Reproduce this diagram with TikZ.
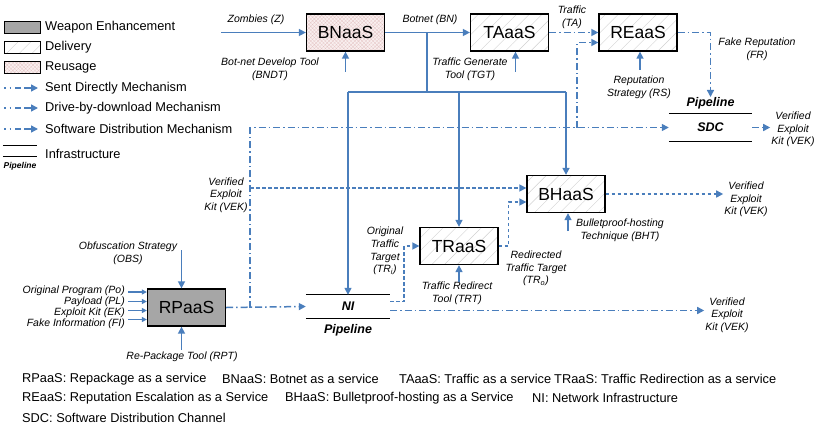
\documentclass[tikz,border=0pt]{standalone}
\usepackage{fontspec}
\setmainfont{Liberation Sans}
\usepackage{tikz}
\usetikzlibrary{arrows.meta}
\usetikzlibrary{positioning}
\usetikzlibrary{patterns.meta}

\definecolor{flowblue}{RGB}{74,126,188}
\definecolor{weapongray}{RGB}{166,166,166}
\definecolor{reusepink}{RGB}{249,239,239}
\definecolor{reusehatch}{RGB}{228,196,196}

\begin{document}
\begin{tikzpicture}[x=1pt,y=-1pt,
  box/.style={draw,line width=1.3pt,minimum width=78pt,minimum height=37pt,inner sep=0pt,font=\fontsize{17.5}{20}\selectfont},
  weapon/.style={box,fill=weapongray},
  delivery/.style={box,preaction={fill=white},pattern={Lines[angle=45,distance=9pt,line width=0.4pt]},pattern color=black!18},
  reuse/.style={box,preaction={fill=reusepink},pattern={Hatch[angle=45,distance=2.6pt,line width=0.25pt]},pattern color=reusehatch},
  legbox/.style={minimum width=36pt,minimum height=12pt,line width=1pt},
  lbl/.style={font=\fontsize{10.5}{12.7}\selectfont\itshape,align=center,inner sep=1pt},
  pipe/.style={font=\fontsize{12.5}{14}\selectfont\bfseries\itshape,inner sep=0pt},
  pipeline/.style={line width=1.2pt},
  sent/.style={flowblue,line width=1.5pt,-{Triangle[length=7pt,width=7pt]}},
  drive/.style={sent,dash pattern=on 3.5pt off 2.5pt},
  sdist/.style={sent,dash pattern=on 7pt off 3pt on 1.5pt off 3pt},
  legarrow/.style={sent,dash pattern=on 1.5pt off 4pt on 1.5pt off 4pt on 6pt off 3pt on 7pt off 20pt},
  legend/.style={font=\fontsize{12.8}{14}\selectfont,anchor=west,inner sep=0pt},
  note/.style={font=\fontsize{12.8}{14}\selectfont,anchor=west,inner sep=0pt}]
\useasboundingbox (0,0) rectangle (824,429);

% legend
\node[weapon,legbox] (lgweapon) at (22,27) {};
\node[legend] (lweapon) at (45,27) {Weapon Enhancement};
\node[delivery,legbox] (lgdeliv) at (22,47) {};
\node[legend] (ldeliv) at (45,47) {Delivery};
\node[reuse,legbox] (lgreuse) at (22,67.5) {};
\node[legend] (lreuse) at (45,67.5) {Reusage};
\node[legend] (lsent) at (45,88) {Sent Directly Mechanism};
\node[legend] (ldrive) at (45,108) {Drive-by-download Mechanism};
\node[legend] (lsdist) at (45,129) {Software Distribution Mechanism};
\foreach \l in {lsent,ldrive,lsdist}
  \draw[legarrow] ([xshift=-41pt]\l.west) -- ([xshift=-7pt]\l.west);
\node[minimum width=34pt,minimum height=10pt,inner sep=0pt] (lginfra) at (20,151) {};
\draw[pipeline] (lginfra.north west) -- (lginfra.north east) (lginfra.south west) -- (lginfra.south east);
\node[legend] (linfra) at (45,154) {Infrastructure};
\node[pipe,font=\fontsize{8.5}{9}\selectfont\bfseries\itshape] (lgpipe) at (20,166) {Pipeline};

% services
\node[reuse] (bn) at (345.5,32.5) {BNaaS};
\node[delivery] (ta) at (509.5,32.5) {TAaaS};
\node[delivery] (re) at (638,32.5) {REaaS};
\node[delivery] (bh) at (566,194) {BHaaS};
\node[delivery] (tr) at (459,246) {TRaaS};
\node[weapon] (rp) at (186.5,307.5) {RPaaS};

% infrastructure
\node[pipe,minimum width=84pt,minimum height=23pt] (ni) at (348,306.5) {NI};
\node[pipe] (nipl) at (348,330) {Pipeline};
\node[pipe,minimum width=83pt,minimum height=27pt] (sdc) at (710.5,127.5) {SDC};
\node[pipe] (sdcpl) at (710.5,103) {Pipeline};
\draw[pipeline] (ni.north west) -- (ni.north east) (ni.south west) -- (ni.south east);
\draw[pipeline] (sdc.north west) -- (sdc.north east) (sdc.south west) -- (sdc.south east);

% labels
\node[lbl] (zl) at (256,20) {Zombies (Z)};
\node[lbl] (bndt) at (270,69) {Bot-net Develop Tool\\(BNDT)};
\node[lbl] (bnl) at (430,20) {Botnet (BN)};
\node[lbl] (tgt) at (470,69) {Traffic Generate\\Tool (TGT)};
\node[lbl] (tal) at (572,17) {Traffic\\(TA)};
\node[lbl] (rsl) at (639,87.5) {Reputation\\Strategy (RS)};
\node[lbl] (frl) at (757,49.5) {Fake Reputation\\(FR)};
\node[lbl] (vek1) at (793,129.5) {Verified\\Exploit\\Kit (VEK)};
\node[lbl] (vek0) at (226,195) {Verified\\Exploit\\Kit (VEK)};
\node[lbl] (vek2) at (746,199.5) {Verified\\Exploit\\Kit (VEK)};
\node[lbl] (vek3) at (727,315) {Verified\\Exploit\\Kit (VEK)};
\node[lbl] (bht) at (620,230.5) {Bulletproof-hosting\\Technique (BHT)};
\node[lbl] (trin) at (385,251) {Original\\Traffic\\Target\\(TR\textsubscript{i})};
\node[lbl] (trout) at (536,268.5) {Redirected\\Traffic Target\\(TR\textsubscript{o})};
\node[lbl] (trt) at (457,293.5) {Traffic Redirect\\Tool (TRT)};
\node[lbl] (obs) at (128,253.5) {Obfuscation Strategy\\(OBS)};
\node[lbl,anchor=east] (po) at (126,291) {Original Program (Po)};
\node[lbl,anchor=east] (pl) at (126,302) {Payload (PL)};
\node[lbl,anchor=east] (ek) at (126,313) {Exploit Kit (EK)};
\node[lbl,anchor=east] (fi) at (126,324) {Fake Information (FI)};
\node[lbl] (rpt) at (182,357) {Re-Package Tool (RPT)};

% sent directly
\coordinate (zin) at (221,32.5);
\draw[sent] (zin) -- (bn.west);
\draw[sent] (bn.east) -- (ta.west);
\draw[sent] ([yshift=-20pt]bn.south) -- (bn.south);
\draw[sent] ([xshift=6pt,yshift=-20pt]ta.south) -- ([xshift=6pt]ta.south);
\draw[sent] ([xshift=2pt,yshift=-18pt]re.south) -- ([xshift=2pt]re.south);
\draw[sent] ([xshift=2pt,yshift=-18pt]bh.south) -- ([xshift=2pt]bh.south);
\draw[sent] ([yshift=-17pt]tr.south) -- (tr.south);
\draw[sent] ([xshift=-5pt,yshift=38pt]rp.north) -- ([xshift=-5pt]rp.north);
\draw[sent] ([xshift=-5pt,yshift=-23pt]rp.south) -- ([xshift=-5pt]rp.south);
\foreach \y in {292,301.5,310.5,319.5}
  \draw[sent,line width=1.2pt,-{Triangle[length=5pt,width=5pt]}] (128,\y) -- (rp.west |- 128,\y);
\coordinate (br) at (427,32.5);
\coordinate (bj) at (427,92);
\draw[sent,-] (br) -- (bj);
\draw[sent,-] (bj -| ni.north) -- (bj -| bh.north);
\draw[sent] (bj -| ni.north) -- (ni.north);
\draw[sent] (bj -| tr.north) -- (tr.north);
\draw[sent] (bj -| bh.north) -- (bh.north);

% software distribution
\coordinate (sj) at (250,307.5);
\coordinate (sk) at (577,127.5);
\draw[sdist] (rp.east) -- (ni.west);
\draw[sdist] (sj) |- (sdc.west);
\draw[sdist] (sk) |- ([yshift=-10pt]re.west);
\draw[sdist] (ta.east) -- (re.west);
\draw[sdist] (re.east) -| (sdcpl.north);
\draw[sdist] (sdc.east) -- (sdc.east -| vek1.west);
\draw[sdist] ([yshift=-4pt]ni.east) -- ([yshift=-4pt]ni.east -| vek3.west);

% drive-by-download
\coordinate (dj) at (250,188);
\draw[drive] (dj) -- (dj -| bh.west);
\draw[drive] (tr.east) -- ++(10,0) |- ([yshift=-8pt]bh.west);
\draw[drive] ([yshift=5pt]ni.east) -- ++(14,0) |- (tr.west);
\draw[drive] (bh.east) -- (bh.east -| vek2.west);

% abbreviations
\node[note] (ab1) at (22,379) {RPaaS: Repackage as a service};
\node[note] (ab2) at (222,379) {BNaaS: Botnet as a service};
\node[note] (ab3) at (399,379) {TAaaS: Traffic as a service};
\node[note] (ab4) at (554,379) {TRaaS: Traffic Redirection as a service};
\node[note] (ab5) at (22,398) {REaaS: Reputation Escalation as a Service};
\node[note] (ab6) at (285,398) {BHaaS: Bulletproof-hosting as a Service};
\node[note] (ab7) at (532,398) {NI: Network Infrastructure};
\node[note] (ab8) at (22,418) {SDC: Software Distribution Channel};
\end{tikzpicture}
\end{document}
